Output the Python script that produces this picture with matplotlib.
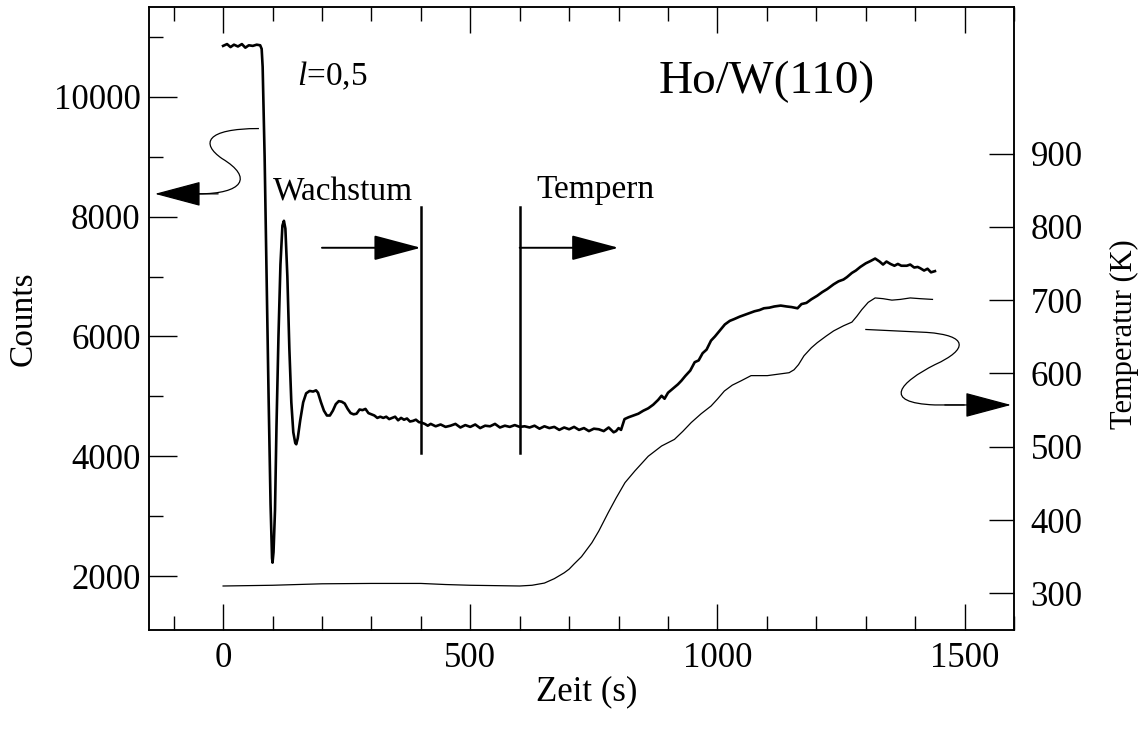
import matplotlib
matplotlib.use("Agg")
import matplotlib.pyplot as plt
from matplotlib.path import Path
from matplotlib.patches import PathPatch
from matplotlib.ticker import MultipleLocator, FixedLocator

plt.rcParams["font.family"] = ["Liberation Serif", "DejaVu Serif"]
plt.rcParams["mathtext.fontset"] = "custom"
plt.rcParams["mathtext.rm"] = "Liberation Serif"
plt.rcParams["mathtext.it"] = "Liberation Serif:italic"

# ---- counts (thick curve) --------------------------------------------------
t_counts = [0, 8, 15, 22, 30, 38, 45, 52, 60, 68, 75, 78, 80, 84, 88, 92, 96, 99,
            100, 102, 105, 108, 112, 116, 120, 123, 126, 130, 134, 138, 142, 146,
            148, 151, 156, 162, 168, 175, 182, 188, 192, 198, 204, 210, 216, 222,
            228, 234, 240, 246, 252, 258, 264, 270, 276, 282, 288, 294, 300, 306,
            312, 318, 324, 330, 336, 342, 348, 354, 360, 366, 372, 378, 384, 390,
            396, 402, 408, 414, 420, 430, 440, 450, 460, 470, 480, 490, 500, 510,
            520, 530, 540, 550, 560, 570, 580, 590, 600, 610, 620, 630, 640, 650,
            660, 670, 680, 690, 700, 710, 720, 730, 740, 750, 760, 770, 780, 790,
            795, 800, 805, 812, 820, 830, 840, 850, 860, 870, 880, 887, 893, 900,
            910, 920, 927, 935, 945, 954, 962, 970, 978, 987, 995, 1007, 1015, 1025,
            1034, 1045, 1055, 1065, 1075, 1085, 1094, 1105, 1115, 1128, 1140, 1150,
            1162, 1170, 1180, 1190, 1202, 1212, 1222, 1235, 1245, 1255, 1262, 1272,
            1280, 1289, 1300, 1310, 1319, 1328, 1335, 1342, 1350, 1358, 1365, 1372,
            1383, 1390, 1398, 1405, 1410, 1418, 1425, 1432, 1440]
counts = [10850, 10880, 10830, 10870, 10840, 10880, 10820, 10860, 10850, 10870,
          10860, 10800, 10500, 9000, 7000, 5000, 3200, 2300,
          2224, 2400, 3100, 4500, 6000, 7200, 7850, 7930, 7800, 7000, 5800, 4900,
          4400, 4220, 4200, 4300, 4600, 4900, 5050, 5090, 5080, 5100, 5060, 4900,
          4760, 4680, 4680, 4760, 4870, 4920, 4910, 4880, 4790, 4720, 4700, 4710,
          4780, 4770, 4790, 4720, 4700, 4680, 4640, 4660, 4640, 4660, 4620, 4640,
          4660, 4600, 4640, 4610, 4630, 4580, 4590, 4610, 4570, 4560, 4540, 4510,
          4540, 4500, 4530, 4490, 4510, 4540, 4480, 4520, 4490, 4530, 4470, 4510,
          4500, 4540, 4480, 4510, 4490, 4520, 4490, 4500, 4480, 4510, 4460, 4500,
          4470, 4490, 4440, 4480, 4450, 4490, 4440, 4470, 4420, 4460, 4450, 4420,
          4480, 4400, 4420, 4470, 4440, 4620, 4650, 4680, 4710, 4760, 4800, 4860,
          4940, 5010, 4960, 5060, 5130, 5200, 5260, 5340, 5430, 5570, 5600, 5720,
          5780, 5930, 6000, 6120, 6200, 6260, 6290, 6330, 6360, 6390, 6420, 6440,
          6470, 6480, 6500, 6515, 6500, 6490, 6470, 6540, 6560, 6620, 6680, 6740,
          6790, 6870, 6920, 6950, 6990, 7060, 7100, 7160, 7220, 7260, 7300, 7250,
          7200, 7250, 7210, 7180, 7210, 7180, 7180, 7200, 7150, 7160, 7140, 7100,
          7130, 7070, 7090]

# ---- temperature (thin curve) ----------------------------------------------
t_temp = [0, 100, 200, 300, 400, 450, 500, 550, 600, 625, 650, 670, 690, 700, 710,
          725, 746, 760, 779, 795, 813, 833, 860, 887, 913, 930, 947, 967, 987,
          1000, 1014, 1030, 1048, 1068, 1101, 1145, 1155, 1164, 1175, 1190, 1202,
          1220, 1235, 1255, 1272, 1282, 1292, 1305, 1319, 1335, 1353, 1370, 1390,
          1410, 1435]
temp = [310, 311, 313, 313.5, 313.5, 312, 311, 310.5, 310, 311, 314, 320, 328, 333,
        340, 350, 369, 385, 410, 430, 451, 467, 487, 501, 510, 521, 533, 545, 555.5,
        565, 576, 584, 590, 597, 597, 601, 605, 612, 624, 635, 642, 651, 658, 665,
        670, 678, 687, 697, 703, 702, 700, 701, 703, 702, 701]

# phase markers (Wachstum ends / Tempern starts)
phase_t = [400, 600]
marker_span = (4050, 8160)
arrow_level = 7480

fig = plt.figure(figsize=(11.44, 7.31), dpi=100)
ax = fig.add_axes([0.1302, 0.1382, 0.7562, 0.8523])
ax2 = ax.twinx()

ax.plot(t_counts, counts, color="k", lw=1.9)
ax2.plot(t_temp, temp, color="k", lw=0.9)

ax.set_xlim(-150, 1600)
ax.set_ylim(1100, 11500)
ax2.set_ylim(250, 1100)

# vertical phase lines and horizontal arrows
for t0 in phase_t:
    ax.plot([t0, t0], marker_span, color="k", lw=1.8)
head = "-|>,head_length=3.0,head_width=0.8"
ax.annotate("", xy=(400, arrow_level), xytext=(200, arrow_level),
            arrowprops=dict(arrowstyle=head, color="k", lw=1.4,
                            shrinkA=0, shrinkB=0, mutation_scale=10))
ax.annotate("", xy=(800, arrow_level), xytext=(600, arrow_level),
            arrowprops=dict(arrowstyle=head, color="k", lw=1.4,
                            shrinkA=0, shrinkB=0, mutation_scale=10))

# curly arrow -> left axis
left_curl = Path([(72.5, 9470), (-36, 9470), (-46, 9219), (-2, 8968),
                  (62, 8650), (40, 8380), (-50, 8380)],
                 [Path.MOVETO, Path.CURVE4, Path.CURVE4, Path.CURVE4,
                  Path.CURVE4, Path.CURVE4, Path.CURVE4])
ax.add_patch(PathPatch(left_curl, fill=False, lw=0.9, color="k"))
ax.annotate("", xy=(-138, 8380), xytext=(-10, 8380),
            arrowprops=dict(arrowstyle=head, color="k", lw=0.9,
                            shrinkA=0, shrinkB=0, mutation_scale=10))

# curly arrow -> right axis
right_curl = Path([(1299, 660), (1423, 656), (1508, 652), (1508, 633), (1440, 612),
                   (1370, 588), (1330, 560), (1440, 557), (1500, 557)],
                  [Path.MOVETO, Path.LINETO, Path.CURVE4, Path.CURVE4, Path.CURVE4,
                   Path.CURVE4, Path.CURVE4, Path.CURVE4, Path.LINETO])
ax2.add_patch(PathPatch(right_curl, fill=False, lw=0.9, color="k"))
ax2.annotate("", xy=(1594, 557), xytext=(1460, 557),
             arrowprops=dict(arrowstyle=head, color="k", lw=0.9,
                             shrinkA=0, shrinkB=0, mutation_scale=10))

# texts
ax.text(149, 10194, r"$l$=0,5", fontsize=24, ha="left", va="baseline")
ax.text(1100, 10055, "Ho/W(110)", fontsize=34, ha="center", va="baseline")
ax.text(100, 8266, "Wachstum", fontsize=24, ha="left", va="baseline")
ax.text(634, 8311, "Tempern", fontsize=24, ha="left", va="baseline")

# ticks
ax.xaxis.set_major_locator(MultipleLocator(500))
ax.xaxis.set_minor_locator(MultipleLocator(100))
ax.yaxis.set_major_locator(FixedLocator([2000, 4000, 6000, 8000, 10000]))
ax.yaxis.set_minor_locator(MultipleLocator(1000))
ax2.yaxis.set_major_locator(FixedLocator([300, 400, 500, 600, 700, 800, 900]))
ax.tick_params(axis="x", which="both", direction="in", top=True, bottom=True,
               labelsize=25, width=1, pad=9)
ax.tick_params(axis="x", which="major", length=19)
ax.tick_params(axis="x", which="minor", length=10)
ax.tick_params(axis="y", which="both", direction="in", left=True, right=False,
               labelsize=25, width=1, pad=6)
ax.tick_params(axis="y", which="major", length=20)
ax.tick_params(axis="y", which="minor", length=10)
ax2.tick_params(axis="y", which="major", direction="in", length=18, width=1,
                labelsize=25, pad=12)
ax2.tick_params(axis="y", which="minor", right=False)

for a in (ax, ax2):
    for s in a.spines.values():
        s.set_linewidth(1.1)

ax.set_xlabel("Zeit (s)", fontsize=25, labelpad=-3)
ax.set_ylabel("Counts", fontsize=24)
ax2.set_ylabel("Temperatur (K)", fontsize=22)
ax.yaxis.set_label_coords(-0.127, 0.5)
ax2.yaxis.set_label_coords(1.111, 0.475)
ax.xaxis.set_label_coords(0.506, -0.073)

fig.savefig("out.png", dpi=100)
